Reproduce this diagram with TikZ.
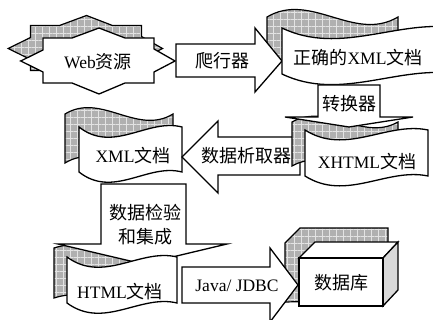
\documentclass[tikz,border=0pt]{standalone}
\usepackage{fontspec}
\setmainfont{Liberation Serif}
\newfontfamily\cjk{Noto Sans CJK SC}
\usetikzlibrary{patterns.meta}
\newcommand\zh[1]{{\cjk\fontsize{18}{20}\selectfont #1}}
% front wave document: x0,y0,w,h,c
\newcommand\docfront[5]{%
  \draw[front] (#1,#2) .. controls ({#1+#3/3},{#2+#5}) and ({#1+2*#3/3},{#2-#5/3}) .. ({#1+#3},#2)
   -- ({#1+#3},{#2+#4}) .. controls ({#1+2*#3/3},{#2+#4-#5/3}) and ({#1+#3/3},{#2+#4+#5}) .. (#1,{#2+#4}) -- cycle;}
% shadow wave document: x0,y0,w,h,c
\newcommand\docshadow[5]{%
  \draw[shade] (#1,#2) .. controls ({#1+#3/3},{#2-#5}) and ({#1+2*#3/3},{#2+#5}) .. ({#1+#3},#2)
   -- ({#1+#3},{#2+#4}) .. controls ({#1+2*#3/3},{#2+#4+#5}) and ({#1+#3/3},{#2+#4-#5}) .. (#1,{#2+#4}) -- cycle;}
\newcommand\starpath{(20.7,61) -- (43,50) -- (43,38) -- (72,38) -- (99,28) -- (125,38) -- (154,38) -- (154,49) -- (175,61) -- (154,72) -- (154,83) -- (125,83) -- (99,94) -- (72,83) -- (43,83) -- (43,72) -- cycle}
\begin{document}
\begin{tikzpicture}[x=1pt,y=-1pt,
  front/.style={draw=black, line width=1.3pt, fill=white, line join=miter},
  shade/.style={draw=black, line width=1.2pt, preaction={fill=gray!62},
    pattern={Hatch[distance=7pt,angle=0,line width=0.5pt]}, pattern color=gray!22},
  lbl/.style={font=\fontsize{17.5}{24}\selectfont, inner sep=0pt, align=center}]
\useasboundingbox (0,0) rectangle (433,320);
\clip (0,0) rectangle (433,320);

% Web resources star
\draw[shade, shift={(-12.5,-12.5)}] \starpath;
\draw[front] \starpath;
\node[lbl] (web) at (98,62) {Web\zh{资源}};

% top-right document
\docshadow{267}{17}{131}{50}{26}
\draw[front] (176,44) -- (255,44) -- (255,28) -- (282,61) -- (255,92) -- (255,77) -- (176,77) -- cycle;
\node[lbl] (crawl) at (222,61) {\zh{爬行器}};
\docfront{282}{28}{175}{46}{28}
\node[lbl] (xml1) at (358,58) {\zh{正确的}XML\zh{文档}};

% middle-left document
\docshadow{65}{114}{108}{49}{22}
\docfront{79}{127}{103}{45}{27}
\node[lbl] (xml2) at (133,156) {XML\zh{文档}};

% extraction arrow
\draw[front] (300,137) -- (218,137) -- (218,121) -- (182,157) -- (218,193) -- (218,175) -- (300,175) -- cycle;
\node[lbl] (extract) at (246,156) {\zh{数据析取器}};

% middle-right document
\docshadow{292}{122}{106}{44}{20}
\draw[front] (318,85) -- (380,85) -- (380,117) -- (413,117) -- (349,127) -- (285,117) -- (318,117) -- cycle;
\node[lbl] (conv) at (349,104) {\zh{转换器}};
\docfront{305}{130}{123}{46}{26}
\node[lbl] (xhtml) at (367,162) {XHTML\zh{文档}};

% bottom-left document
\docshadow{54}{248}{111}{50}{12}
\draw[front] (101,184) -- (186,184) -- (186,244) -- (227,244) -- (143,264) -- (58,244) -- (101,244) -- cycle;
\node[lbl] (check) at (145,225) {\zh{数据检验}\\\zh{和集成}};
\docfront{67}{257}{110}{46}{27}
\node[lbl] (html) at (120,292) {HTML\zh{文档}};

% database
\draw[shade] (285,302) -- (285,243) -- (300,228) -- (388,228) -- (388,280) -- (370,300) -- cycle;
\draw[front] (182,267) -- (270,267) -- (270,248) -- (298,285) -- (270,322) -- (270,303) -- (182,303) -- cycle;
\node[lbl] (jdbc) at (237,286) {Java/ JDBC};
\draw[front] (299,258) -- (315,242) -- (398,242) -- (383,258) -- cycle;
\draw[front, fill=gray!30] (383,258) -- (398,242) -- (398,290) -- (383,306) -- cycle;
\draw[front] (299,258) rectangle (383,306);
\node[lbl] (db) at (341,283) {\zh{数据库}};
\end{tikzpicture}
\end{document}
